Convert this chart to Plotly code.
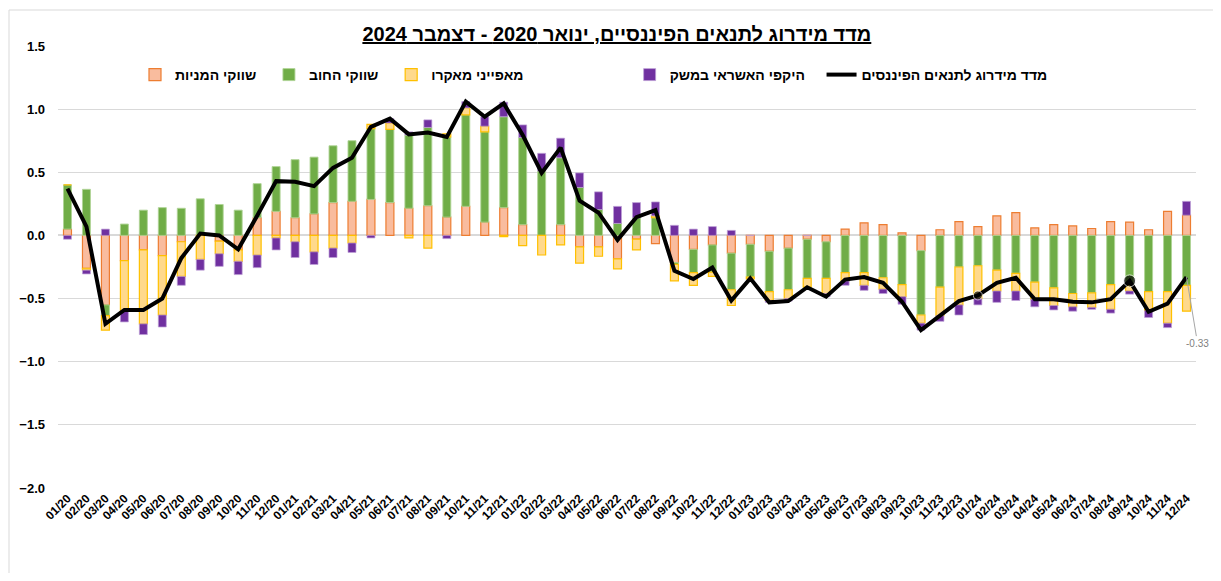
import plotly.graph_objects as go

months = ["01/20","02/20","03/20","04/20","05/20","06/20","07/20","08/20","09/20","10/20","11/20","12/20",
          "01/21","02/21","03/21","04/21","05/21","06/21","07/21","08/21","09/21","10/21","11/21","12/21",
          "01/22","02/22","03/22","04/22","05/22","06/22","07/22","08/22","09/22","10/22","11/22","12/22",
          "01/23","02/23","03/23","04/23","05/23","06/23","07/23","08/23","09/23","10/23","11/23","12/23",
          "01/24","02/24","03/24","04/24","05/24","06/24","07/24","08/24","09/24","10/24","11/24","12/24"]

equity = [0.05,-0.26,-0.55,-0.20,-0.115,-0.16,-0.05,0.0,-0.045,-0.115,0.14,0.19,
          0.14,0.17,0.26,0.27,0.285,0.26,0.215,0.235,0.145,0.23,0.105,0.22,
          0.085,0.0,0.085,-0.09,-0.09,-0.185,-0.03,-0.065,-0.215,-0.11,-0.075,-0.14,
          -0.07,-0.125,-0.10,-0.03,-0.05,0.05,0.10,0.085,0.02,-0.12,0.045,0.11,
          0.07,0.155,0.18,0.06,0.085,0.075,0.055,0.11,0.105,0.045,0.19,0.16]

bonds = [0.35,0.365,-0.085,0.09,0.20,0.22,0.215,0.29,0.245,0.20,0.27,0.355,
         0.46,0.45,0.45,0.48,0.56,0.58,0.58,0.62,0.635,0.725,0.715,0.72,
         0.69,0.51,0.53,0.38,0.205,0.095,0.14,0.14,-0.015,-0.185,-0.215,-0.29,
         -0.26,-0.32,-0.33,-0.31,-0.29,-0.295,-0.295,-0.335,-0.39,-0.51,-0.41,-0.25,
         -0.24,-0.275,-0.30,-0.37,-0.415,-0.46,-0.455,-0.39,-0.40,-0.445,-0.445,-0.395]

macro = [0.0,-0.015,-0.115,-0.40,-0.585,-0.47,-0.275,-0.19,-0.10,-0.09,-0.155,-0.02,
         -0.05,-0.13,-0.10,-0.06,0.035,0.05,-0.02,-0.10,0.025,0.055,0.045,-0.01,
         -0.08,-0.155,-0.075,-0.13,-0.075,-0.08,-0.085,0.015,-0.13,-0.10,-0.035,-0.125,
         -0.015,-0.07,-0.07,-0.07,-0.12,-0.065,-0.10,-0.09,-0.095,-0.065,-0.225,-0.30,
         -0.26,-0.165,-0.14,-0.135,-0.14,-0.105,-0.115,-0.195,-0.04,-0.15,-0.25,-0.205]

credit = [-0.03,-0.03,0.05,-0.085,-0.085,-0.095,-0.07,-0.085,-0.10,-0.105,-0.10,-0.095,
          -0.125,-0.10,-0.075,-0.075,-0.02,0.035,0.025,0.06,-0.025,0.05,0.075,0.115,
          0.10,0.14,0.155,0.115,0.14,0.135,0.12,0.11,0.08,0.05,0.07,0.04,
          0.0,-0.015,-0.02,0.0,-0.025,-0.035,-0.04,-0.035,-0.06,-0.055,-0.045,-0.08,
          -0.05,-0.09,-0.075,-0.06,-0.035,-0.035,-0.015,-0.03,-0.025,-0.055,-0.035,0.11]

index = [0.37,0.07,-0.70,-0.59,-0.59,-0.50,-0.18,0.015,0.00,-0.11,0.155,0.43,
         0.425,0.39,0.535,0.615,0.86,0.925,0.80,0.815,0.78,1.06,0.94,1.045,
         0.795,0.495,0.695,0.275,0.18,-0.035,0.145,0.20,-0.28,-0.345,-0.255,-0.515,
         -0.34,-0.53,-0.52,-0.41,-0.485,-0.35,-0.33,-0.375,-0.525,-0.75,-0.635,-0.52,
         -0.475,-0.375,-0.335,-0.505,-0.505,-0.525,-0.53,-0.505,-0.36,-0.605,-0.54,-0.33]

names = ["שווקי המניות", "שווקי החוב", "מאפייני מאקרו", "היקפי האשראי במשק", "מדד מידרוג לתנאים הפיננסים"]
title_text = "מדד מידרוג לתנאים הפיננסיים, ינואר 2020 - דצמבר 2024"
marked_idx = [48, 56]
marker_sizes = [9, 12]

FONT = "Arial, Liberation Sans, DejaVu Sans, sans-serif"
NB = "\u00a0"
pad = [2, 2, 26, 3, 0]

fig = go.Figure()
bar_styles = [
    (equity, "#F9BC9E", "#ED7D31", 1.2),
    (bonds, "#70AD47", "rgba(175,212,150,0.9)", 1.0),
    (macro, "#FFD98C", "#FFC000", 1.2),
    (credit, "#7030A0", "rgba(190,160,215,0.9)", 0.8),
]
for i, (vals, fill, edge, lw) in enumerate(bar_styles):
    fig.add_trace(go.Bar(x=months, y=vals, name=names[i] + NB * pad[i],
                         marker=dict(color=fill, line=dict(color=edge, width=lw))))

fig.add_trace(go.Scatter(x=months, y=index, name=names[4], mode="lines",
                         line=dict(color="black", width=4)))
fig.add_trace(go.Scatter(x=[months[i] for i in marked_idx], y=[index[i] for i in marked_idx],
                         mode="markers", showlegend=False,
                         marker=dict(color="black", size=marker_sizes)))

fig.add_annotation(x=months[-1], y=index[-1], text=f"{index[-1]:.2f}",
                   showarrow=True, arrowhead=0, arrowwidth=1, arrowcolor="#a6a6a6",
                   ax=11, ay=66, font=dict(family=FONT, size=10, color="#7f7f7f"))

OFF = 8  # page body margin
L, R, T, B = 50, 17, 38, 85
W, H = 1205, 565
pw, ph = W - L - R, H - T - B

def px_x(p):
    return (p - OFF - L) / pw

def px_y(p):
    return 1 - (p - OFF - T) / ph

fig.add_shape(type="rect", xref="paper", yref="paper",
              x0=px_x(9), x1=px_x(1260), y0=px_y(620), y1=px_y(10),
              line=dict(color="#d9d9d9", width=1), fillcolor="rgba(0,0,0,0)", layer="below")

fig.update_layout(
    width=W, height=H,
    margin=dict(l=L, r=R, t=T, b=B),
    paper_bgcolor="white", plot_bgcolor="white",
    barmode="relative", bargap=0.58,
    font=dict(family=FONT, color="black"),
    title=dict(text=f"<b><u>{title_text}</u></b>", x=px_x(633), xanchor="center",
               y=1 - (34 - OFF) / H, yanchor="middle", font=dict(size=20, family=FONT)),
    legend=dict(orientation="h", x=px_x(135), xanchor="left", y=px_y(75), yanchor="middle",
                font=dict(size=14, family=FONT, weight="bold"), itemwidth=30,
                bgcolor="rgba(255,255,255,0)", traceorder="normal"),
    xaxis=dict(type="category", range=[-0.5, len(months) - 0.5], autorange=False,
               showgrid=False, showline=False, ticks="", tickangle=-45,
               tickfont=dict(size=12, family=FONT, weight="bold"), zeroline=False,
               automargin=False),
    yaxis=dict(range=[-2.0, 1.5], autorange=False, dtick=0.5, tick0=0, tickformat=".1f",
               showgrid=True, gridcolor="#d9d9d9", gridwidth=1,
               zeroline=True, zerolinecolor="#d9d9d9", zerolinewidth=1.5,
               tickfont=dict(size=13, family=FONT, weight="bold"), ticklabelstandoff=12,
               automargin=False),
    xaxis2=dict(overlaying="x", anchor="free", position=2.0 / 3.5, type="linear",
                range=[-0.5, len(months) - 0.5], autorange=False, tickmode="linear",
                tick0=-0.5, dtick=1, ticks="outside", ticklen=4, tickcolor="#d9d9d9",
                showticklabels=False, showgrid=False, zeroline=False, showline=False,
                automargin=False),
    showlegend=True,
)

fig.write_html("out.html")
